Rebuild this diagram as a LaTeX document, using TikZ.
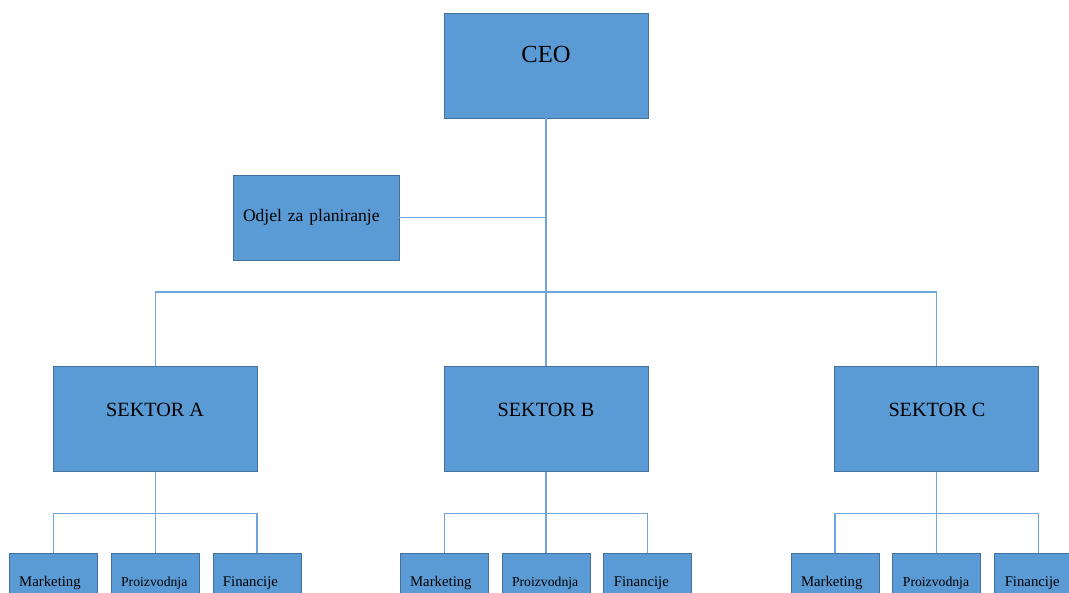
\documentclass[tikz,border=0pt]{standalone}
\usepackage{fontspec}
\setmainfont{Liberation Serif}
\usetikzlibrary{positioning}
\definecolor{boxfill}{HTML}{5B9BD5}
\definecolor{boxline}{HTML}{41719C}
\definecolor{wire}{HTML}{6FA5DA}
\tikzset{
  unit/.style={rectangle, draw=boxline, fill=boxfill, line width=0.5pt, inner sep=0pt,
               minimum width=40.8mm, minimum height=21mm, text height=3mm, text depth=4mm,
               font=\fontsize{11.5}{13}\selectfont},
  planbox/.style={rectangle, draw=boxline, fill=boxfill, line width=0.5pt, inner xsep=2mm, inner ysep=0pt,
                  minimum height=17mm, text width=29.2mm, align=left, text height=3mm, text depth=1.5mm,
                  font=\fontsize{10}{12}\selectfont},
  dept/.style={rectangle, draw=boxline, fill=boxfill, line width=0.5pt, inner xsep=2mm, inner ysep=0pt,
               minimum height=14mm, text width=13.6mm, align=left, text height=2.5mm, text depth=3.5mm,
               font=\fontsize{8.4}{10}\selectfont},
  small/.style={font=\fontsize{7.8}{9}\selectfont},
  wires/.style={draw=wire, line width=0.6pt},
}
\begin{document}
\begin{tikzpicture}[x=0.2mm, y=-0.2mm]
  \clip (0,0) rectangle (1069,593);
  \node[unit, font=\fontsize{14}{16}\selectfont] (ceo) at (546,65.5) {CEO};
  \node[planbox] (plan) at (316,217.5) {Odjel za planiranje};
  \node[unit] (sb) [below=49.6mm of ceo] {SEKTOR B};
  \node[unit] (sa) [left=37.2mm of sb] {SEKTOR A};
  \node[unit] (sc) [right=37.2mm of sb] {SEKTOR C};
  \coordinate (bus) at (546,292);

  \node[dept, small] (pa) [below=16.2mm of sa] {Proizvodnja};
  \node[dept] (ma) [left=2.6mm of pa] {Marketing};
  \node[dept] (fa) [right=2.6mm of pa] {Financije};

  \node[dept, small] (pb) [below=16.2mm of sb] {Proizvodnja};
  \node[dept] (mb) [left=2.6mm of pb] {Marketing};
  \node[dept] (fb) [right=2.6mm of pb] {Financije};

  \node[dept, small] (pc) [below=16.2mm of sc] {Proizvodnja};
  \node[dept] (mc) [left=2.6mm of pc] {Marketing};
  \node[dept] (fc) [right=2.6mm of pc] {Financije};

  \draw[wires] (ceo.south) -- (sb.north);
  \draw[wires] (plan.east) -- (plan.east -| ceo.south);
  \draw[wires] (sa.north) |- (bus) -| (sc.north);

  \draw[wires] (sa.south) -- (pa.north);
  \draw[wires] (ma.north) -- ++(0,-40) -| (fa.north);
  \draw[wires] (sb.south) -- (pb.north);
  \draw[wires] (mb.north) -- ++(0,-40) -| (fb.north);
  \draw[wires] (sc.south) -- (pc.north);
  \draw[wires] (mc.north) -- ++(0,-40) -| (fc.north);
\end{tikzpicture}
\end{document}
